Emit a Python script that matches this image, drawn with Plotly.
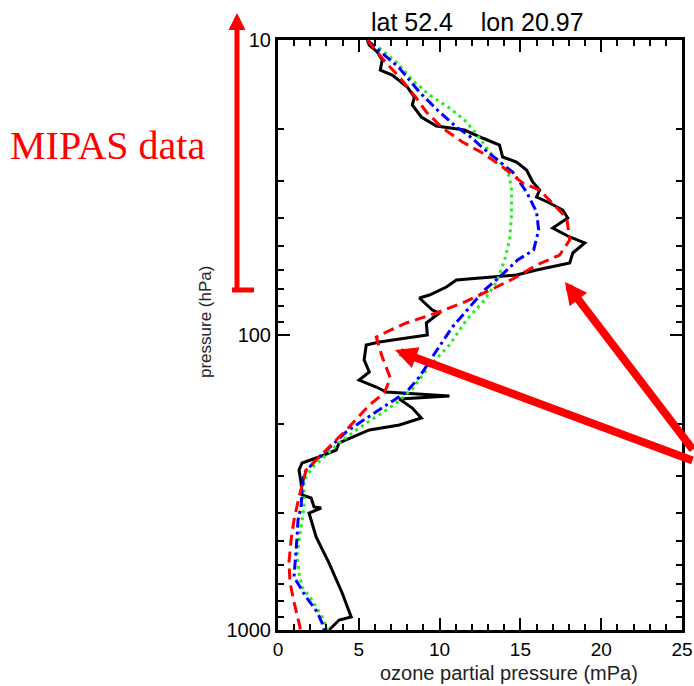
import plotly.graph_objects as go

# ---------------- data (pressure in hPa, ozone partial pressure in mPa) ----------------
sonde_p = [10.0, 10.4, 10.98, 11.69, 12.64, 13.14, 14.43, 15.61, 16.61, 18.24,
           19.57, 20.19, 21.49, 22.70, 24.93, 25.92, 27.58, 30.29, 32.25, 34.06,
           35.69, 37.70, 40.12, 43.39, 46.54, 48.76, 52.72, 57.00, 60.21, 62.61,
           65.11, 68.76, 73.19, 74.92, 82.28, 84.22, 91.06, 100.0, 105.6, 108.1,
           121.5, 133.5, 142.1, 150.1, 156.1, 161.0, 164.8, 176.8, 191.1, 201.9,
           209.9, 221.7, 232.3, 245.4, 259.2, 271.6, 286.9, 317.6, 348.6, 356.8,
           382.9, 385.9, 401.3, 483.8, 592.9, 749.1, 903.4, 925.0, 962.0, 1000.0]
sonde_o = [5.52, 5.65, 6.14, 6.45, 6.33, 7.07, 8.00, 8.44, 8.31, 8.87,
           9.80, 11.54, 12.66, 13.71, 13.90, 14.76, 15.38, 15.76, 16.19, 16.00,
           16.81, 17.62, 17.93, 17.00, 18.05, 18.98, 18.24, 18.05, 16.00, 14.76,
           11.04, 10.42, 9.37, 8.75, 9.55, 9.99, 9.18, 9.24, 6.27, 5.46,
           5.33, 5.65, 5.02, 6.08, 6.70, 10.61, 7.51, 8.31, 8.87, 7.51,
           5.65, 4.59, 3.78, 3.60, 2.54, 1.49, 1.30, 1.43, 1.49, 2.05,
           2.23, 2.67, 1.92, 2.36, 3.16, 3.97, 4.53, 3.78, 3.47, 3.16]

red_p = [10.0, 11.97, 13.35, 15.73, 17.54, 19.88, 22.17, 24.16, 26.95, 30.52,
         32.25, 35.69, 40.12, 47.64, 53.56, 57.90, 63.60, 69.3, 77.3, 84.22,
         91.06, 97.7, 101.6, 118.7, 139.9, 157.3, 172.7, 205.1, 227.0, 259.2,
         286.9, 354.1, 423.8, 495.0, 588.3, 687.7, 803.9, 977.0, 1000.0]
red_o = [5.52, 6.70, 7.51, 8.56, 9.18, 10.17, 11.41, 12.66, 13.90, 15.14,
         16.19, 17.00, 17.87, 18.05, 17.43, 16.00, 14.76, 13.40, 11.54, 9.80,
         7.94, 6.70, 6.08, 6.45, 6.95, 6.58, 5.65, 4.40, 3.60, 2.54,
         1.74, 1.30, 0.99, 0.81, 0.68, 0.74, 0.99, 1.36, 1.36]

blue_p = [10.0, 11.42, 12.44, 15.01, 17.27, 19.72, 21.16, 23.97, 28.03, 32.76,
          38.29, 44.07, 51.5, 55.69, 63.60, 70.4, 80.4, 93.95, 118.7, 138.8,
          156.1, 170.1, 198.8, 213.2, 241.6, 265.3, 293.7, 335.3, 382.9, 423.8,
          483.8, 579.0, 661.2, 773.0, 869.0, 947.0, 1000.0]
blue_o = [5.52, 6.70, 7.51, 8.75, 9.86, 11.04, 11.85, 12.97, 14.52, 15.38,
          16.00, 16.13, 15.82, 14.83, 13.71, 12.78, 11.85, 10.79, 9.55, 8.75,
          7.94, 6.89, 5.02, 4.22, 3.16, 2.36, 1.61, 1.49, 1.43, 1.24,
          1.18, 1.05, 0.99, 1.74, 2.42, 2.73, 2.85]

green_p = [10.0, 10.64, 11.97, 13.66, 15.36, 17.0, 18.67, 20.99, 23.97, 26.53,
           29.13, 32.25, 39.19, 47.64, 55.69, 66.1, 76.1, 88.97, 108.1, 127.4,
           152.5, 170.1, 183.8, 198.8, 214.9, 232.3, 255.2, 282.3, 310.1, 382.9,
           447.6, 507.2, 556.9, 641.0, 714.9, 791.4, 903.4, 1000.0]
green_o = [5.52, 6.27, 7.38, 8.31, 9.37, 10.61, 11.54, 12.34, 13.09, 13.90,
           14.33, 14.45, 14.45, 14.33, 14.02, 13.52, 12.78, 11.66, 10.61, 9.37,
           8.31, 7.32, 6.45, 5.46, 4.59, 3.78, 2.98, 2.11, 1.61, 1.61,
           1.43, 1.30, 1.18, 1.30, 1.49, 2.11, 2.73, 3.10]

x_ticks = [0, 5, 10, 15, 20, 25]
x_minor = [1, 2, 3, 4, 6, 7, 8, 9, 11, 12, 13, 14, 16, 17, 18, 19, 21, 22, 23, 24]
y_ticks = [10, 100, 1000]
y_tick_text = ["10", "100", "1000"]
y_minor = [20, 30, 40, 50, 60, 70, 80, 90, 200, 300, 400, 500, 600, 700, 800, 900]

title_text = "lat 52.4\u00a0\u00a0\u00a0\u00a0lon 20.97"
x_title = "ozone partial pressure (mPa)"
y_title = "pressure (hPa)"
note_text = "MIPAS data"

# ---------------- figure ----------------
fig = go.Figure()
fig.add_trace(go.Scatter(x=sonde_o, y=sonde_p, mode="lines", hoverinfo="skip",
                         line=dict(color="black", width=3)))
fig.add_trace(go.Scatter(x=green_o, y=green_p, mode="lines", hoverinfo="skip",
                         line=dict(color="#22ee22", width=3, dash="3px,4px")))
fig.add_trace(go.Scatter(x=blue_o, y=blue_p, mode="lines", hoverinfo="skip",
                         line=dict(color="#0000ff", width=3, dash="10px,4px,3px,4px")))
fig.add_trace(go.Scatter(x=red_o, y=red_p, mode="lines", hoverinfo="skip",
                         line=dict(color="#ff0000", width=3, dash="11px,6px")))

tickfont = dict(family="Liberation Sans, Arial, sans-serif", size=19, color="black")

fig.update_xaxes(range=[0, 25], tickmode="array", tickvals=x_ticks,
                 ticks="inside", ticklen=12, tickwidth=2, tickcolor="black",
                 showline=True, linewidth=3, linecolor="black", mirror="ticks",
                 showgrid=False, zeroline=False, tickfont=tickfont, automargin=False,
                 minor=dict(tickmode="array", tickvals=x_minor, ticks="inside",
                            ticklen=6, tickwidth=2, tickcolor="black", showgrid=False))
fig.update_yaxes(type="log", range=[3, 1], tickmode="array", tickvals=y_ticks,
                 ticktext=y_tick_text,
                 ticks="inside", ticklen=12, tickwidth=2, tickcolor="black",
                 showline=True, linewidth=3, linecolor="black", mirror="ticks",
                 showgrid=False, zeroline=False,
                 tickfont=dict(family="Liberation Sans, Arial, sans-serif", size=20,
                               color="black"),
                 automargin=False,
                 minor=dict(tickmode="array", tickvals=y_minor, ticks="inside",
                            ticklen=6, tickwidth=2, tickcolor="black", showgrid=False))

annotations = [
    dict(text=title_text, xref="paper", yref="paper", x=0.495, y=1.0305,
         showarrow=False, xanchor="center", yanchor="middle",
         font=dict(family="Liberation Sans, Arial, sans-serif", size=25, color="black")),
    dict(text=x_title, xref="paper", yref="paper", x=0.5718, y=-0.0729,
         showarrow=False, xanchor="center", yanchor="middle",
         font=dict(family="Liberation Sans, Arial, sans-serif", size=20, color="#222222")),
    dict(text=y_title, xref="paper", yref="paper", x=-0.1807, y=0.522,
         showarrow=False, xanchor="center", yanchor="middle", textangle=-90,
         font=dict(family="Liberation Sans, Arial, sans-serif", size=17, color="#222222")),
    dict(text=note_text, xref="paper", yref="paper", x=-0.422, y=0.822,
         showarrow=False, xanchor="center", yanchor="middle",
         font=dict(family="Liberation Serif, Times New Roman, serif", size=40, color="#ff0000")),
    # red arrows
    dict(text="", xref="paper", yref="paper", x=0.7104, y=0.5898,
         axref="pixel", ayref="pixel", ax=155, ay=169, showarrow=True,
         arrowhead=2, arrowsize=0.55, arrowwidth=8, arrowcolor="#ff0000", standoff=0),
    dict(text="", xref="paper", yref="paper", x=0.2896, y=0.4746,
         axref="pixel", ayref="pixel", ax=325, ay=111, showarrow=True,
         arrowhead=2, arrowsize=0.55, arrowwidth=8, arrowcolor="#ff0000", standoff=0),
    dict(text="", xref="paper", yref="paper", x=-0.1015, y=1.0458,
         axref="pixel", ayref="pixel", ax=0, ay=278, showarrow=True,
         arrowhead=2, arrowsize=0.68, arrowwidth=5, arrowcolor="#ff0000", standoff=0),
]

shapes = [
    dict(type="line", xref="paper", yref="paper", x0=-0.1139, x1=-0.0594,
         y0=0.5763, y1=0.5763, line=dict(color="#ff0000", width=5)),
]

fig.update_layout(template="none", width=694, height=686,
                  margin=dict(l=278, r=12, t=40, b=56, autoexpand=False),
                  showlegend=False, plot_bgcolor="white", paper_bgcolor="white",
                  hovermode=False, annotations=annotations, shapes=shapes)

fig.write_html("out.html", config={"displayModeBar": False, "staticPlot": True},
               post_script="document.body.style.margin='0';document.body.style.padding='0';")
